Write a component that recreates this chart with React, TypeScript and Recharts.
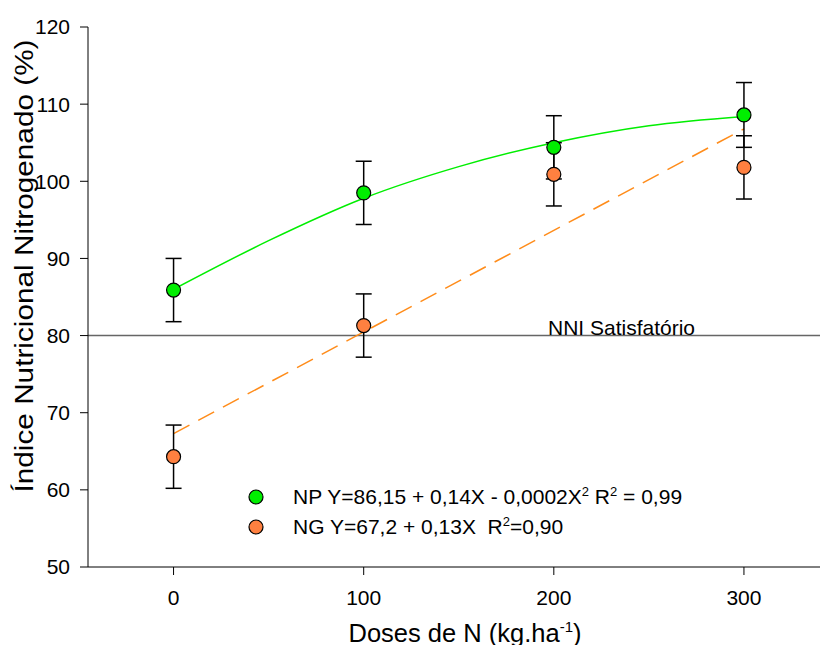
import { ComposedChart, Line, Scatter, ErrorBar, XAxis, YAxis, ReferenceLine } from 'recharts'

const doses = [0, 100, 200, 300]
const npMean = [85.9, 98.5, 104.4, 108.6]
const npErr = [4.1, 4.1, 4.1, 4.2]
const ngMean = [64.3, 81.3, 100.9, 101.8]
const ngErr = [4.1, 4.1, 4.1, 4.1]

// fitted curves
const npFitX = [0, 50, 100, 150, 200, 250, 300]
const npFitY = [86.0, 92.3, 97.8, 101.9, 105.0, 107.2, 108.4]
const ngFitX = [0, 300]
const ngFitY = [67.3, 106.8]

const yTicks = [50, 60, 70, 80, 90, 100, 110, 120]
const xTicks = [0, 100, 200, 300]
const nniLevel = 80

const npPoints = doses.map((x, i) => ({ x, y: npMean[i], err: npErr[i] }))
const ngPoints = doses.map((x, i) => ({ x, y: ngMean[i], err: ngErr[i] }))
const npFit = npFitX.map((x, i) => ({ x, y: npFitY[i] }))
const ngFit = ngFitX.map((x, i) => ({ x, y: ngFitY[i] }))

const GREEN = '#00ee00'
const ORANGE = '#ff8040'
const FONT = '"Liberation Sans", Arial, sans-serif'

const dot = (fill: string) => (p: any) => (
  <circle cx={p.cx} cy={p.cy} r={7} fill={fill} stroke="#000" strokeWidth={1.2} />
)
const noDot = () => <g />

function XTitle() {
  return (
    <text x={465} y={642} textAnchor="middle" fontSize={25.5} fill="#000" fontFamily={FONT}>
      Doses de N (kg.ha<tspan dy={-10} fontSize={15}>-1</tspan>
      <tspan dy={10}>)</tspan>
    </text>
  )
}

function YTitle() {
  // the original's vertical title is a bit stretched along its length
  return (
    <text
      x={33}
      y={266}
      transform="rotate(-90, 33, 266)"
      textAnchor="middle"
      fontSize={26}
      textLength={453}
      lengthAdjust="spacingAndGlyphs"
      fill="#000"
      fontFamily={FONT}
    >
      Índice Nutricional Nitrogenado (%)
    </text>
  )
}

function NniLabel(props: any) {
  const vb = props.viewBox
  return (
    <text x={vb.x + 460} y={vb.y - 1} fontSize={21} fill="#000" fontFamily={FONT}>
      NNI Satisfatório
    </text>
  )
}

const sup = { fontSize: 13, verticalAlign: 'super', lineHeight: 0 } as const

export default function App() {
  return (
    <div style={{ position: 'absolute', left: 0, top: 0, width: 833, height: 645, background: '#fff', fontFamily: FONT }}>
      <ComposedChart width={833} height={645} margin={{ top: 27, right: 13, bottom: 18, left: 28 }}>
        <XAxis
          type="number"
          dataKey="x"
          domain={[-45, 340]}
          ticks={xTicks}
          allowDataOverflow
          stroke="#000"
          tickSize={8}
          tickMargin={15}
          height={60}
          tick={{ fontSize: 21, fill: '#000' }}
          label={<XTitle />}
        />
        <YAxis
          type="number"
          dataKey="y"
          domain={[50, 120]}
          ticks={yTicks}
          stroke="#000"
          tickSize={8}
          tickMargin={10}
          width={60}
          tick={{ fontSize: 21, fill: '#000' }}
          label={<YTitle />}
        />
        <ReferenceLine y={nniLevel} stroke="#666" strokeWidth={1.5} label={<NniLabel />} />
        <Line data={npFit} dataKey="y" type="monotone" stroke={GREEN} strokeWidth={1.5} dot={false} isAnimationActive={false} />
        <Line
          data={ngFit}
          dataKey="y"
          type="linear"
          stroke="#ff8c1a"
          strokeWidth={1.5}
          strokeDasharray="18 10"
          dot={false}
          isAnimationActive={false}
        />
        <Scatter data={npPoints} dataKey="y" shape={noDot} isAnimationActive={false}>
          <ErrorBar dataKey="err" direction="y" width={8} stroke="#000" strokeWidth={1.5} isAnimationActive={false} />
        </Scatter>
        <Scatter data={npPoints} dataKey="y" shape={dot(GREEN)} isAnimationActive={false} />
        <Scatter data={ngPoints} dataKey="y" shape={noDot} isAnimationActive={false}>
          <ErrorBar dataKey="err" direction="y" width={8} stroke="#000" strokeWidth={1.5} isAnimationActive={false} />
        </Scatter>
        <Scatter data={ngPoints} dataKey="y" shape={dot(ORANGE)} isAnimationActive={false} />
      </ComposedChart>

      <div style={{ position: 'absolute', left: 248, top: 485, height: 24, display: 'flex', alignItems: 'center', fontSize: 21, whiteSpace: 'nowrap' }}>
        <svg width={16} height={16} style={{ marginRight: 29 }}>
          <circle cx={8} cy={8} r={7} fill={GREEN} stroke="#000" strokeWidth={1.2} />
        </svg>
        <span>
          NP Y=86,15 + 0,14X - 0,0002X<span style={sup}>2</span> R<span style={sup}>2</span> = 0,99
        </span>
      </div>
      <div style={{ position: 'absolute', left: 248, top: 515, height: 24, display: 'flex', alignItems: 'center', fontSize: 21, whiteSpace: 'nowrap' }}>
        <svg width={16} height={16} style={{ marginRight: 29 }}>
          <circle cx={8} cy={8} r={7} fill={ORANGE} stroke="#000" strokeWidth={1.2} />
        </svg>
        <span>
          NG Y=67,2 + 0,13X&nbsp; R<span style={sup}>2</span>=0,90
        </span>
      </div>
    </div>
  )
}
